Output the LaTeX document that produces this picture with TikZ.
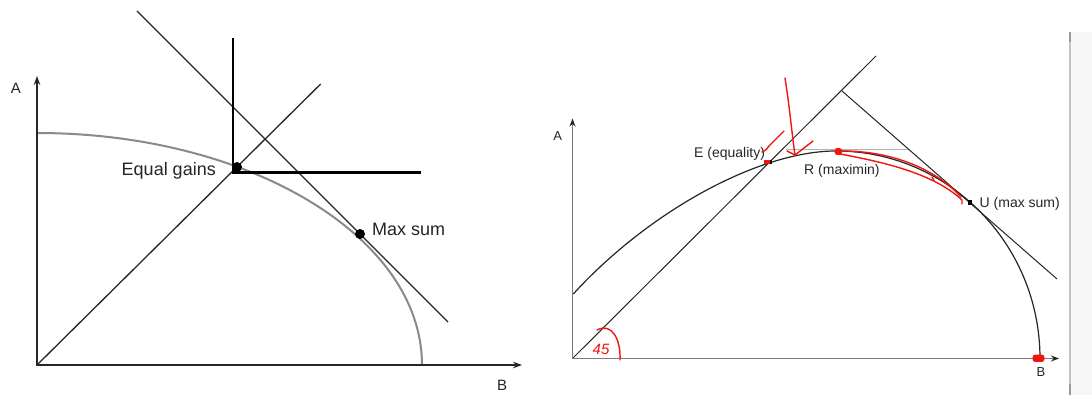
\documentclass[tikz,border=0pt]{standalone}
\usepackage{fontspec}
\setmainfont{Liberation Sans}
\usetikzlibrary{arrows.meta}
\definecolor{ink}{HTML}{262626}
\definecolor{frontgray}{HTML}{8A8A8A}
\definecolor{axgray}{HTML}{7A7A7A}
\definecolor{pen}{HTML}{F2140F}
\definecolor{barfill}{HTML}{F7F7F7}
\definecolor{bargray}{HTML}{C4C4C4}
\tikzset{
  axisL/.style={draw=ink, line width=1.3pt, {Stealth[length=9pt,width=6.5pt]}-{Stealth[length=9pt,width=6.5pt]}},
  lineL/.style={draw=ink, line width=1.3pt},
  leontief/.style={draw=black, line width=2.4pt},
  frontL/.style={draw=frontgray, line width=2pt},
  dotL/.style={circle, fill=black, inner sep=0pt, minimum size=10pt},
  labL/.style={text=ink, font=\fontsize{18}{20}\selectfont, inner sep=0pt},
  axlabL/.style={text=ink, font=\fontsize{15}{17}\selectfont, inner sep=0pt},
  axisR/.style={draw=axgray, line width=1.4pt, {Stealth[length=8pt,width=6pt,color=ink]}-{Stealth[length=8pt,width=6pt,color=ink]}},
  lineR/.style={draw=ink, line width=1pt},
  frontR/.style={draw=ink, line width=1.2pt},
  levelR/.style={draw=gray!60, line width=1pt},
  sqR/.style={rectangle, fill=black, inner sep=0pt, minimum size=4.5pt},
  labR/.style={text=ink, font=\fontsize{14}{16}\selectfont, inner sep=0pt},
  axlabR/.style={text=ink, font=\fontsize{13}{15}\selectfont, inner sep=0pt},
  penline/.style={draw=pen, line width=1.4pt, line cap=round, line join=round},
  penblob/.style={fill=pen, draw=pen, line width=0.6pt, rounded corners=2pt}
}
\begin{document}
\begin{tikzpicture}[x=1pt,y=-1pt]
\useasboundingbox (0,0) rectangle (1092,395);
\fill[white] (0,0) rectangle (1092,395);

% ---------------- left diagram ----------------
\coordinate (LO) at (37,365);
\coordinate (LY) at (37,76);
\coordinate (LX) at (522,365);
\coordinate (LFa) at (37,133);
\coordinate (LFb) at (422,365);
\coordinate (LDa) at (320.7,84);
\coordinate (LTa) at (137,11);
\coordinate (LTb) at (448,322);
\coordinate (LKt) at (233,38);
\coordinate (LKc) at (233,172.5);
\coordinate (LKr) at (421,172.5);

\draw[frontL] (LFa) .. controls (249.6,133) and (422,236.9) .. (LFb);
\draw[lineL] (LO) -- (LDa);
\draw[lineL] (LTa) -- (LTb);
\draw[leontief] (LKt) -- (LKc) -- (LKr);
\draw[axisL] (LY) -- (LO) -- (LX);

\node[dotL] (eq) at (237,167) {};
\node[dotL] (ms) at (360,234) {};
\node[labL, anchor=base east] (eqlab) at (216,176) {Equal gains};
\node[labL, anchor=base west] (mslab) at (372,236) {Max sum};
\node[axlabL, anchor=base] (LA) at (16,93.3) {A};
\node[axlabL, anchor=base] (LB) at (502,390.7) {B};

% ---------------- right diagram ----------------
\coordinate (RO) at (572.5,358.5);
\coordinate (RY) at (572.5,118.5);
\coordinate (RX) at (1059,358.5);
\coordinate (RFa) at (573.3,294);
\coordinate (RFp) at (836,151);
\coordinate (RFb) at (1040,358.5);
\coordinate (RDa) at (876,56);
\coordinate (RTa) at (842,91);
\coordinate (RTb) at (1057,279);
\coordinate (RLa) at (786,150);
\coordinate (RLb) at (908,150);

\draw[levelR] (RLa) -- (RLb);
\draw[frontR] (RFa) .. controls (650,210) and (760,151) .. (RFp)
                    .. controls (948.7,151) and (1040,244.1) .. (RFb);
\draw[lineR] (RO) -- (RDa);
\draw[lineR] (RTa) -- (RTb);
\draw[axisR] (RY) -- (RO) -- (RX);

\node[sqR] (E) at (770,162) {};
\node[sqR] (U) at (970,202.5) {};
\node[labR, anchor=base west] (Elab) at (694,157.3) {E (equality)};
\node[labR, anchor=base west] (Rlab) at (804,174.3) {R (maximin)};
\node[labR, anchor=base west] (Ulab) at (979.5,207.3) {U (max sum)};
\node[axlabR, anchor=base] (RA) at (557.6,140.7) {A};
\node[axlabR, anchor=base] (RB) at (1041,376.7) {B};

% ---------------- red pen annotations ----------------
\draw[penline] (597,330) .. controls (612,322) and (621,340) .. (620,360);
\node[text=pen, font=\fontsize{15}{17}\selectfont\itshape, inner sep=0pt] (ang) at (601,349) {45};
\draw[penline] (762,152) .. controls (766,150) .. (769,146) -- (784,131);
\draw[penline] (785,78) .. controls (790,110) and (792,135) .. (795,155);
\draw[penline] (787,151) -- (795,155) -- (813,141);
\fill[pen] (763.5,160.5) rectangle (770,164.5);
\draw[penblob] (835,148.5) rectangle (841.5,154.5);
\draw[penline] (838,151) .. controls (880,150) and (930,163) .. (961,197);
\draw[penline] (838,153.5) .. controls (870,160) and (930,170) .. (962,200) -- (962,204);
\draw[penline] (932,177) -- (934,180.5);
\draw[penblob] (1033,355) rectangle (1044,361.5);

% ---------------- right edge bar ----------------
\fill[barfill] (1071,32) rectangle (1092,395);
\draw[bargray, line width=2pt] (1070,32) -- (1070,395);
\draw[gray!80, line width=2pt] (1070,32) -- (1070,42);
\draw[gray!80, line width=2pt] (1070,384) -- (1070,395);
\end{tikzpicture}
\end{document}
